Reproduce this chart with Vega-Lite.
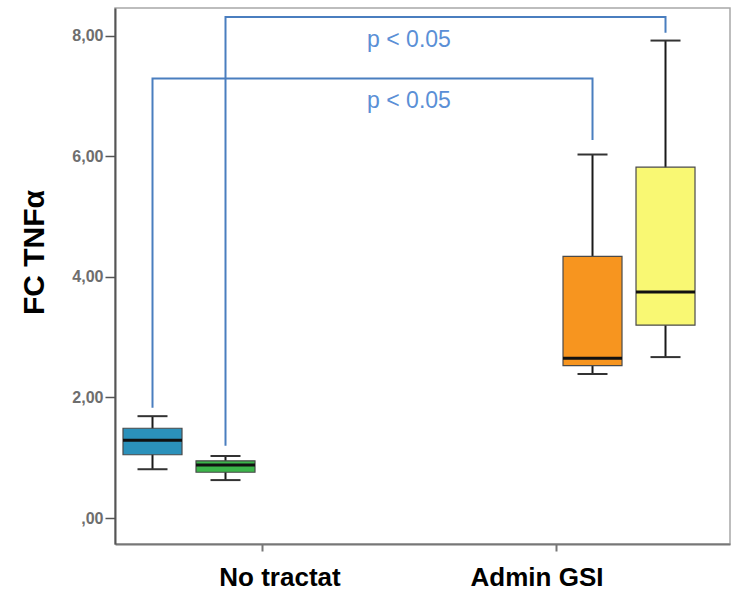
{
  "$schema": "https://vega.github.io/schema/vega-lite/v6.json",
  "width": 615,
  "height": 536,
  "autosize": "none",
  "padding": {"left": 115, "top": 8, "right": 2, "bottom": 50},
  "background": "white",
  "config": {
    "view": {"stroke": "#a8a8a8", "strokeWidth": 1.5},
    "font": "Liberation Sans"
  },
  "datasets": {
    "boxes": [
      {"group": "No tractat", "series": "Grup 1", "lo": 0.81, "q1": 1.05, "median": 1.29, "q3": 1.49, "hi": 1.69},
      {"group": "No tractat", "series": "Grup 2", "lo": 0.63, "q1": 0.76, "median": 0.88, "q3": 0.95, "hi": 1.03},
      {"group": "Admin GSI", "series": "Grup 3", "lo": 2.39, "q1": 2.53, "median": 2.65, "q3": 4.34, "hi": 6.03},
      {"group": "Admin GSI", "series": "Grup 4", "lo": 2.67, "q1": 3.2, "median": 3.75, "q3": 5.82, "hi": 7.92}
    ],
    "brackets": [
      {"bracket": "b1", "order": 1, "group": "No tractat", "series": "Grup 1", "value": 1.83},
      {"bracket": "b1", "order": 2, "group": "No tractat", "series": "Grup 1", "value": 7.29},
      {"bracket": "b1", "order": 3, "group": "Admin GSI", "series": "Grup 3", "value": 7.29},
      {"bracket": "b1", "order": 4, "group": "Admin GSI", "series": "Grup 3", "value": 6.27},
      {"bracket": "b2", "order": 1, "group": "No tractat", "series": "Grup 2", "value": 1.2},
      {"bracket": "b2", "order": 2, "group": "No tractat", "series": "Grup 2", "value": 8.31},
      {"bracket": "b2", "order": 3, "group": "Admin GSI", "series": "Grup 4", "value": 8.31},
      {"bracket": "b2", "order": 4, "group": "Admin GSI", "series": "Grup 4", "value": 8.05}
    ],
    "labels": [
      {"group": "Admin GSI", "value": 7.93, "text": "p < 0.05"},
      {"group": "Admin GSI", "value": 6.92, "text": "p < 0.05"}
    ]
  },
  "layer": [
    {
      "data": {"name": "boxes"},
      "mark": {"type": "rule", "color": "#1a1a1a", "strokeWidth": 2},
      "encoding": {
        "x": {
          "field": "group", "type": "nominal", "title": null,
          "scale": {"domain": ["No tractat", "Admin GSI"], "paddingInner": 0, "paddingOuter": 0.0459, "align": 0},
          "axis": {
            "labelFont": "Liberation Sans", "labelFontSize": 26, "labelFontWeight": "bold", "labelColor": "#000000",
            "labelPadding": 13, "tickSize": 7, "tickColor": "#777777", "tickWidth": 2,
            "domainColor": "#777777", "domainWidth": 2, "grid": false, "labelAngle": 0,
            "labelOffset": {"condition": {"test": "datum.value == 'No tractat'", "value": 18}, "value": -19}
          }
        },
        "xOffset": {
          "field": "series", "type": "nominal",
          "scale": {"domain": ["Grup 1", "Grup 2", "Grup 3", "Grup 4"], "paddingInner": 0.1918, "paddingOuter": 0.1096}
        },
        "y": {
          "field": "lo", "type": "quantitative", "title": "FC TNFα",
          "scale": {"domain": [-0.43, 8.46], "nice": false, "zero": false},
          "axis": {
            "values": [0, 2, 4, 6, 8],
            "labelExpr": "datum.value == 0 ? ',00' : replace(format(datum.value, '.2f'), '.', ',')",
            "labelFont": "Liberation Sans", "labelFontSize": 16, "labelFontWeight": "bold", "labelColor": "#6e6e6e",
            "labelPadding": 2, "tickSize": 10, "tickColor": "#555555", "tickWidth": 1.5,
            "domainColor": "#555555", "domainWidth": 2, "grid": false,
            "titleFont": "Liberation Sans", "titleFontSize": 30, "titleFontWeight": "bold", "titleColor": "#000000",
            "titleX": -72, "titleY": 244, "titleBaseline": "alphabetic", "titleAngle": -90
          }
        },
        "y2": {"field": "hi"}
      }
    },
    {
      "data": {"name": "boxes"},
      "mark": {"type": "bar", "stroke": "#4a4a4a", "strokeWidth": 1.2, "opacity": 1},
      "encoding": {
        "x": {"field": "group", "type": "nominal"},
        "xOffset": {"field": "series", "type": "nominal"},
        "y": {"field": "q1", "type": "quantitative"},
        "y2": {"field": "q3"},
        "color": {
          "field": "series", "type": "nominal", "legend": null,
          "scale": {"domain": ["Grup 1", "Grup 2", "Grup 3", "Grup 4"], "range": ["#2b91bb", "#3bb54a", "#f7951f", "#f9f873"]}
        }
      }
    },
    {
      "data": {"name": "boxes"},
      "mark": {"type": "tick", "color": "#111111", "thickness": 3, "size": 59, "opacity": 1},
      "encoding": {
        "x": {"field": "group", "type": "nominal"},
        "xOffset": {"field": "series", "type": "nominal"},
        "y": {"field": "median", "type": "quantitative"}
      }
    },
    {
      "data": {"name": "boxes"},
      "mark": {"type": "tick", "color": "#333333", "thickness": 2, "size": 30, "opacity": 1},
      "encoding": {
        "x": {"field": "group", "type": "nominal"},
        "xOffset": {"field": "series", "type": "nominal"},
        "y": {"field": "lo", "type": "quantitative"}
      }
    },
    {
      "data": {"name": "boxes"},
      "mark": {"type": "tick", "color": "#333333", "thickness": 2, "size": 30, "opacity": 1},
      "encoding": {
        "x": {"field": "group", "type": "nominal"},
        "xOffset": {"field": "series", "type": "nominal"},
        "y": {"field": "hi", "type": "quantitative"}
      }
    },
    {
      "data": {"name": "brackets"},
      "mark": {"type": "line", "color": "#4a7ebf", "strokeWidth": 2},
      "encoding": {
        "x": {"field": "group", "type": "nominal"},
        "xOffset": {"field": "series", "type": "nominal"},
        "y": {"field": "value", "type": "quantitative"},
        "detail": {"field": "bracket"},
        "order": {"field": "order"}
      }
    },
    {
      "data": {"name": "labels"},
      "mark": {"type": "text", "color": "#5a8fd6", "fontSize": 23, "font": "Liberation Sans"},
      "encoding": {
        "x": {"field": "group", "type": "nominal", "bandPosition": 0},
        "y": {"field": "value", "type": "quantitative"},
        "text": {"field": "text"}
      }
    }
  ]
}
